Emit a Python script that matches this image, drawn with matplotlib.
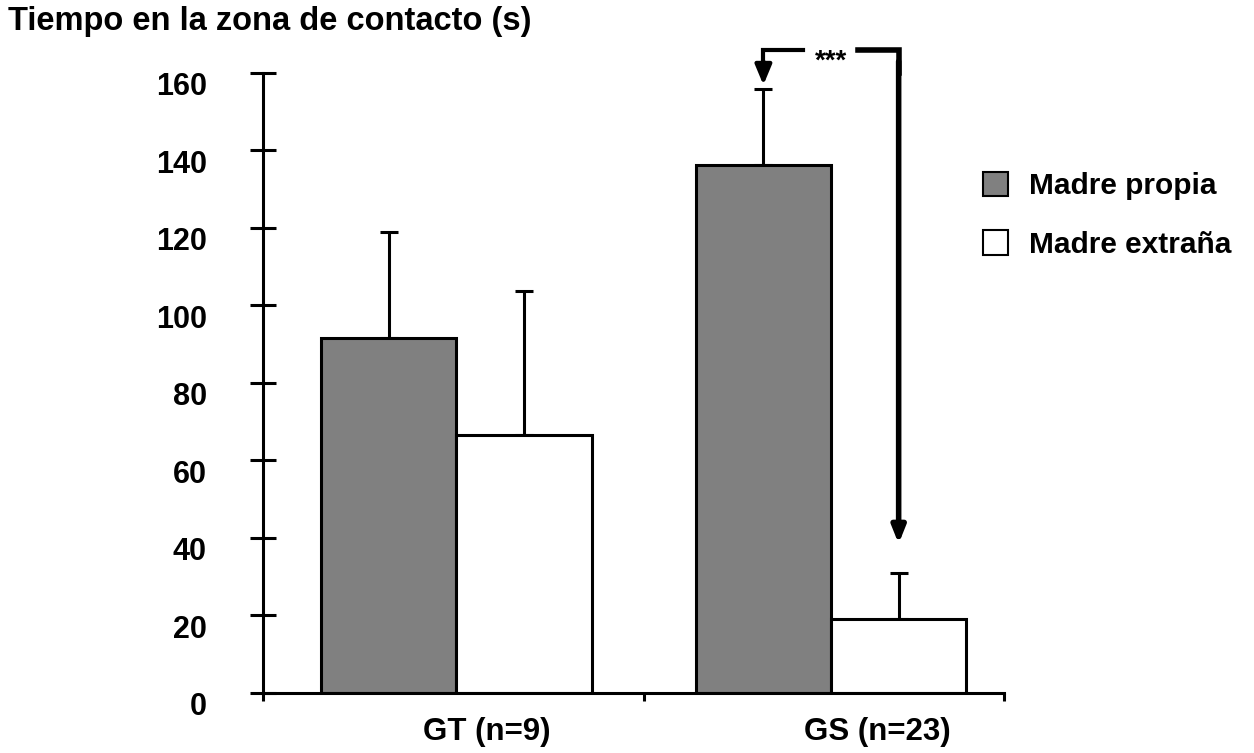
import matplotlib
matplotlib.use('Agg')
import matplotlib.pyplot as plt
from matplotlib.patches import Patch
from matplotlib.transforms import ScaledTranslation
import numpy as np

# datos
grupos = ['GT (n=9)', 'GS (n=23)']
propia = [91.6, 136.3]
propia_err = [27.4, 19.6]
extrana = [66.6, 19.1]
extrana_err = [37.1, 11.9]
series = ['Madre propia', 'Madre extraña']
yticks = [0, 20, 40, 60, 80, 100, 120, 140, 160]

plt.rcParams['font.family'] = ['Liberation Sans', 'DejaVu Sans']
plt.rcParams['font.weight'] = 'bold'

fig = plt.figure(figsize=(12.54, 7.53), dpi=100)
ax = fig.add_axes([0.2097, 0.0797, 0.591, 0.8234])

centros = np.array([0.522, 1.533])
w = 0.365
lw = 2.2

ax.bar(centros - w/2, propia, w, color='#808080', edgecolor='black', linewidth=lw, zorder=2)
ax.bar(centros + w/2, extrana, w, color='white', edgecolor='black', linewidth=lw, zorder=2)
ax.errorbar(centros - w/2, propia, yerr=[np.zeros(2), propia_err], fmt='none',
            ecolor='black', elinewidth=lw, capsize=6.5, capthick=lw, zorder=1)
ax.errorbar(centros + w/2, extrana, yerr=[np.zeros(2), extrana_err], fmt='none',
            ecolor='black', elinewidth=lw, capsize=6.5, capthick=lw, zorder=1)

ax.set_xlim(0, 2)
ax.set_ylim(0, 160)
ax.set_yticks(yticks)
ax.set_xticks([0, centros.mean(), 2])
ax.set_xticklabels([])
ax.tick_params(axis='y', direction='inout', length=19, width=lw, pad=31, labelsize=22)
ax.tick_params(axis='x', direction='out', length=6, width=lw)
# las etiquetas del eje y quedan por debajo de la marca
bajar = ScaledTranslation(0, -11/100, fig.dpi_scale_trans)
for lab in ax.get_yticklabels():
    lab.set_fontweight('bold')
    lab.set_transform(lab.get_transform() + bajar)
ax.spines['top'].set_visible(False)
ax.spines['right'].set_visible(False)
ax.spines['left'].set_linewidth(lw)
ax.spines['bottom'].set_linewidth(lw)

# etiquetas de grupo
label_x = [0.605, 1.657]
for x, g in zip(label_x, grupos):
    ax.text(x, -0.063, g, transform=ax.get_xaxis_transform(), ha='center', va='center',
            fontsize=22.5, fontweight='bold')

# corchete de significancia
xa = centros[1] - w/2
xb = centros[1] + w/2
yb = 166
ax.plot([xa, xa, 1.457], [yb - 4, yb, yb], color='black', lw=3, clip_on=False,
        solid_capstyle='projecting', solid_joinstyle='miter')
ax.plot([1.606, xb, xb], [yb, yb, yb - 6], color='black', lw=4, clip_on=False,
        solid_capstyle='projecting', solid_joinstyle='miter')
ax.annotate('', xy=(xa, propia[1] + propia_err[1] + 1), xytext=(xa, yb - 3),
            arrowprops=dict(arrowstyle='-|>,head_length=1.2,head_width=0.5', color='black',
                            lw=3, shrinkA=0, shrinkB=0), annotation_clip=False)
ax.annotate('', xy=(xb, extrana[1] + extrana_err[1] + 7.5), xytext=(xb, yb - 3),
            arrowprops=dict(arrowstyle='-|>,head_length=1.0,head_width=0.4', color='black',
                            lw=4, shrinkA=0, shrinkB=0), annotation_clip=False)
ax.text(centros[1], yb - 3, '***', ha='center', va='center', fontsize=20,
        fontweight='bold', clip_on=False)

fig.text(0.006, 0.972, 'Tiempo en la zona de contacto (s)', ha='left', va='center',
         fontsize=23.5, fontweight='bold')

handles = [Patch(facecolor='#808080', edgecolor='black', linewidth=1.5),
           Patch(facecolor='white', edgecolor='black', linewidth=1.5)]
fig.legend(handles, series, loc='upper left', bbox_to_anchor=(0.784, 0.772),
           frameon=False, handlelength=0.84, handleheight=0.9,
           handletextpad=0.7, labelspacing=1.0, borderpad=0, borderaxespad=0,
           prop={'weight': 'bold', 'size': 21.5})

fig.savefig('out.png', dpi=100)
